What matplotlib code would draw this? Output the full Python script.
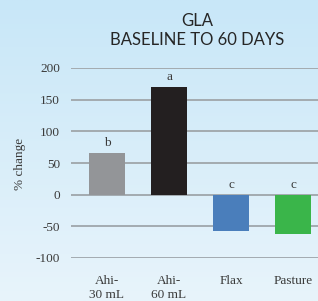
import numpy as np
import matplotlib
matplotlib.use("Agg")
import matplotlib.pyplot as plt

categories = ["Ahi-\n30 mL", "Ahi-\n60 mL", "Flax", "Pasture"]
values = [66, 170, -57, -62]
letters = ["b", "a", "c", "c"]
colors = ["#939598", "#231f20", "#4a7ebb", "#3ab54a"]
yticks = [-100, -50, 0, 50, 100, 150, 200]

serif = ["Liberation Serif", "DejaVu Serif"]
sans = ["Lato", "DejaVu Sans"]
text_color = "#3a3a3a"

fig = plt.figure(figsize=(3.18, 3.01), dpi=100)

# light blue gradient background
bg = fig.add_axes([0, 0, 1, 1], zorder=-10)
grad = np.linspace(0, 1, 256)[:, None]
top = np.array([200, 231, 248]) / 255
bottom = np.array([232, 244, 251]) / 255
img = top + (bottom - top) * grad[..., None]
bg.imshow(np.repeat(img, 2, axis=1), aspect="auto", extent=[0, 1, 0, 1])
bg.set_axis_off()

ax = fig.add_axes([71 / 318, 43 / 301, 1 - 71 / 318, 190 / 301])
ax.patch.set_alpha(0)
x = np.arange(len(categories))
ax.bar(x, values, width=0.58, color=colors, zorder=3)
for xi, v, lab in zip(x, values, letters):
    y = v if v > 0 else 0
    ax.text(xi, y + 6, lab, ha="center", va="bottom", fontsize=9.5,
            family=serif, color=text_color)

ax.set_xlim(-0.58, 3.40)
ax.set_ylim(-100, 200)
ax.set_yticks(yticks)
ax.set_yticklabels([str(t) for t in yticks], family=serif, fontsize=9.5,
                   color=text_color)
ax.yaxis.grid(True, color="#a3abb0", linewidth=1.4, zorder=0)
ax.set_xticks(x)
ax.set_xticklabels(categories, family=serif, fontsize=9.5, color=text_color,
                   linespacing=1.3)
ax.tick_params(axis="both", length=0, pad=8)
ax.tick_params(axis="x", pad=12)
for s in ax.spines.values():
    s.set_visible(False)

fig.text(20 / 318, 1 - 164 / 301, "% change", rotation=90, ha="center",
         va="center", family=serif, fontsize=9.5, color=text_color)
fig.text(197 / 318, 1 - 21 / 301, "GLA", ha="center", va="center",
         family=sans, fontsize=12, color="#262626")
fig.text(197 / 318, 1 - 40 / 301, "BASELINE TO 60 DAYS", ha="center",
         va="center", family=sans, fontsize=12, color="#262626")

fig.savefig("out.png", dpi=100)
